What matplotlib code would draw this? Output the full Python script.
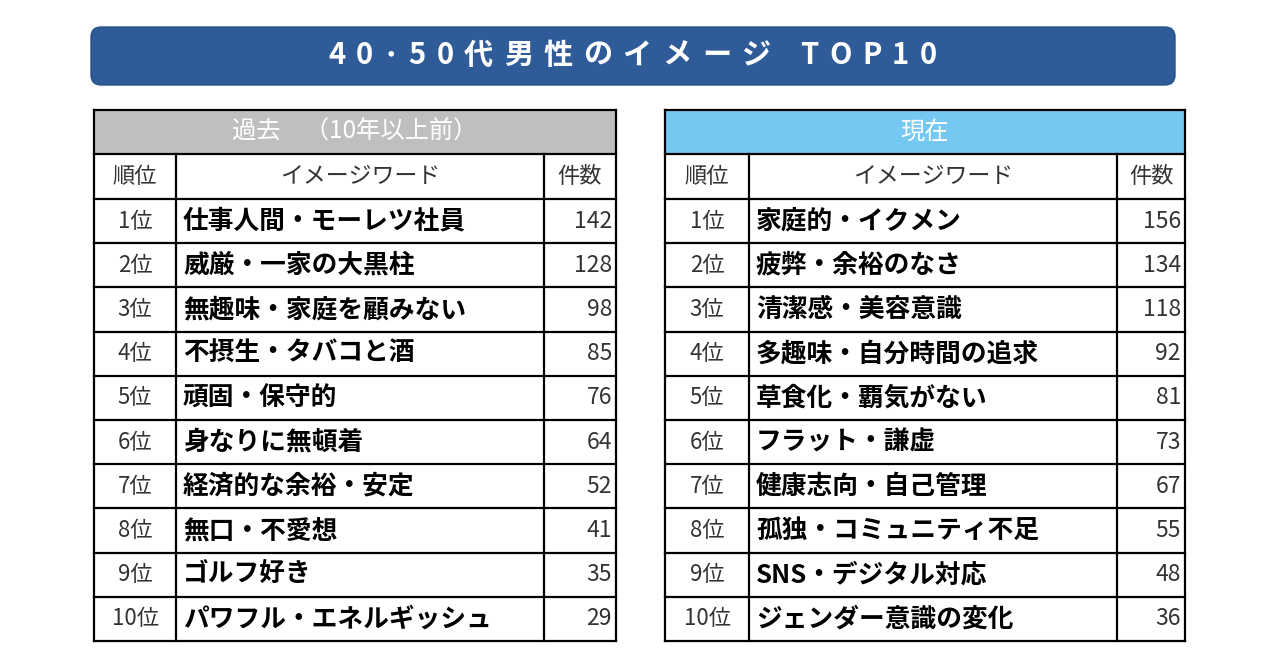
import matplotlib
matplotlib.use("Agg")
import matplotlib.pyplot as plt
from matplotlib.patches import FancyBboxPatch, Rectangle

plt.rcParams['font.family'] = ['Noto Sans CJK JP', 'DejaVu Sans']

title = "40･50代男性のイメージ TOP10"
col_headers = ["順位", "イメージワード", "件数"]
ranks = ["1位", "2位", "3位", "4位", "5位", "6位", "7位", "8位", "9位", "10位"]

past_title = "過去　（10年以上前）"
past_words = ["仕事人間・モーレツ社員", "威厳・一家の大黒柱", "無趣味・家庭を顧みない",
              "不摂生・タバコと酒", "頑固・保守的", "身なりに無頓着",
              "経済的な余裕・安定", "無口・不愛想", "ゴルフ好き", "パワフル・エネルギッシュ"]
past_counts = [142, 128, 98, 85, 76, 64, 52, 41, 35, 29]

now_title = "現在"
now_words = ["家庭的・イクメン", "疲弊・余裕のなさ", "清潔感・美容意識",
             "多趣味・自分時間の追求", "草食化・覇気がない", "フラット・謙虚",
             "健康志向・自己管理", "孤独・コミュニティ不足", "SNS・デジタル対応", "ジェンダー意識の変化"]
now_counts = [156, 134, 118, 92, 81, 73, 67, 55, 48, 36]

W, H = 1281, 654
fig = plt.figure(figsize=(W / 100, H / 100), dpi=100)
ax = fig.add_axes([0, 0, 1, 1])
ax.set_xlim(0, W)
ax.set_ylim(H, 0)
ax.axis('off')

# Title banner
box = FancyBboxPatch((91, 27), 1084, 58, boxstyle="round,pad=0,rounding_size=10",
                     fc="#2F5B98", ec="#2A5288", lw=1)
ax.add_patch(box)

# letter-spaced title
fig.canvas.draw()
renderer = fig.canvas.get_renderer()
fs_title = 21
target_left, target_right = 328, 937
widths = []
for ch in title:
    t = ax.text(0, 0, ch if ch != " " else "\u3000", fontsize=fs_title, fontweight='bold')
    bb = t.get_window_extent(renderer)
    w = bb.width if ch != " " else bb.width * 0.3
    widths.append(w)
    t.remove()
spacing = (target_right - target_left - sum(widths)) / (len(title) - 1)
x = target_left
for ch, w in zip(title, widths):
    if ch != " ":
        ax.text(x, 55, ch, fontsize=fs_title, fontweight='bold', color='white',
                ha='left', va='center')
    x += w + spacing

lw = 1.6
top = 110
hdr_h = 44
colhdr_h = 45
row_h = 44.2


def draw_table(x0, xr, xc, x1, head, head_color, words, counts):
    y_hdr_bot = top + hdr_h
    y_col_bot = y_hdr_bot + colhdr_h
    y_bot = y_col_bot + row_h * len(words)
    ax.add_patch(Rectangle((x0, top), x1 - x0, hdr_h, fc=head_color, ec='none'))
    ax.text((x0 + x1) / 2, top + hdr_h / 2, head, fontsize=17.5, color='white',
            ha='center', va='center')
    # column headers
    ax.text((x0 + xr) / 2, y_hdr_bot + colhdr_h / 2, col_headers[0], fontsize=16,
            color='#333333', ha='center', va='center')
    ax.text((xr + xc) / 2, y_hdr_bot + colhdr_h / 2, col_headers[1], fontsize=16.5,
            color='#333333', ha='center', va='center')
    ax.text((xc + x1) / 2, y_hdr_bot + colhdr_h / 2, col_headers[2], fontsize=16,
            color='#333333', ha='center', va='center')
    for i, (r, w, c) in enumerate(zip(ranks, words, counts)):
        yc = y_col_bot + row_h * (i + 0.5)
        ax.text((x0 + xr) / 2, yc, r, fontsize=16, color='#333333', ha='center', va='center')
        ax.text(xr + 7, yc, w, fontsize=18.5, color='black', fontweight='bold',
                ha='left', va='center')
        ax.text(x1 - 4, yc, str(c), fontsize=16.5, color='#333333', ha='right', va='center')
    # grid lines
    ys = [top, y_hdr_bot, y_col_bot] + [y_col_bot + row_h * k for k in range(1, len(words) + 1)]
    for y in ys:
        ax.plot([x0, x1], [y, y], color='black', lw=lw, solid_capstyle='projecting')
    ax.plot([x0, x0], [top, y_bot], color='black', lw=lw)
    ax.plot([x1, x1], [top, y_bot], color='black', lw=lw)
    ax.plot([xr, xr], [y_hdr_bot, y_bot], color='black', lw=lw)
    ax.plot([xc, xc], [y_hdr_bot, y_bot], color='black', lw=lw)


draw_table(94, 176, 544, 616, past_title, "#BFBFBF", past_words, past_counts)
draw_table(665, 749, 1117, 1185, now_title, "#74C8F2", now_words, now_counts)

fig.savefig("out.png", dpi=100, facecolor='white')
